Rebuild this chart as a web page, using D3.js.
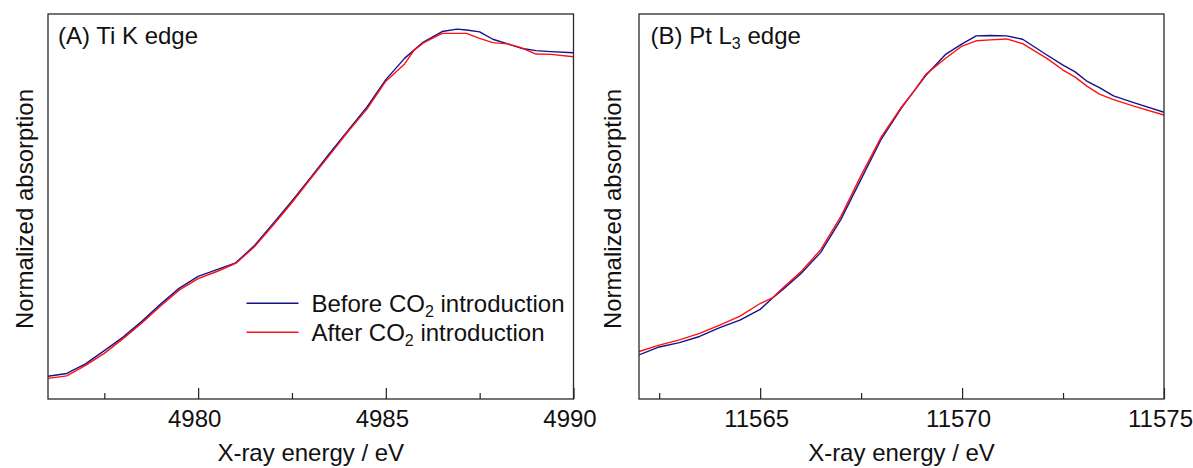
<!DOCTYPE html>
<html>
<head>
<meta charset="utf-8">
<script src="https://cdn.jsdelivr.net/npm/d3@7"></script>
<style>
  html, body { margin: 0; padding: 0; background: #fff; }
  svg { display: block; }
  text { font-family: "Liberation Sans", Arial, sans-serif; fill: #111; }
</style>
</head>
<body>
<svg id="chart" width="1193" height="468"></svg>
<script>
// ---- Ti K edge XANES (panel A) ----
const tiEnergy = [4976.0, 4976.5, 4977.0, 4977.5, 4978.0, 4978.5, 4979.0, 4979.5, 4980.0, 4980.5,
  4981.0, 4981.5, 4982.0, 4982.5, 4983.0, 4983.5, 4984.0, 4984.5, 4985.0, 4985.5,
  4985.75, 4986.0, 4986.5, 4986.9, 4987.15, 4987.5, 4987.85, 4988.25, 4988.6, 4989.0,
  4989.4, 4990.0];
const tiBefore = [0.074, 0.083, 0.114, 0.157, 0.201, 0.252, 0.308, 0.360, 0.398, 0.420,
  0.442, 0.498, 0.570, 0.643, 0.719, 0.797, 0.873, 0.948, 1.037, 1.106,
  1.133, 1.159, 1.193, 1.201, 1.198, 1.192, 1.168, 1.153, 1.139, 1.131,
  1.128, 1.124];
const tiAfter = [0.067, 0.075, 0.109, 0.148, 0.196, 0.247, 0.302, 0.354, 0.391, 0.414,
  0.440, 0.494, 0.565, 0.638, 0.716, 0.792, 0.869, 0.942, 1.032, 1.088,
  1.132, 1.156, 1.187, 1.187, 1.187, 1.171, 1.157, 1.153, 1.141, 1.120,
  1.119, 1.111];

// ---- Pt L3 edge XANES (panel B) ----
const ptEnergy = [11562.0, 11562.5, 11563.0, 11563.5, 11564.0, 11564.5, 11565.0, 11565.3, 11565.6, 11566.0,
  11566.5, 11567.0, 11567.5, 11568.0, 11568.5, 11568.8, 11569.1, 11569.6, 11570.0, 11570.35,
  11570.7, 11571.1, 11571.5, 11572.1, 11572.5, 11572.8, 11573.1, 11573.4, 11573.75, 11574.25,
  11575.0];
const ptBefore = [0.143, 0.169, 0.183, 0.203, 0.232, 0.256, 0.291, 0.327, 0.360, 0.406,
  0.476, 0.583, 0.714, 0.844, 0.945, 0.998, 1.050, 1.120, 1.153, 1.179,
  1.180, 1.179, 1.168, 1.117, 1.084, 1.062, 1.031, 1.011, 0.984, 0.962,
  0.931];
const ptAfter = [0.154, 0.175, 0.192, 0.213, 0.240, 0.269, 0.310, 0.328, 0.365, 0.412,
  0.485, 0.593, 0.726, 0.851, 0.948, 0.998, 1.054, 1.107, 1.146, 1.163,
  1.166, 1.169, 1.154, 1.106, 1.068, 1.045, 1.015, 0.990, 0.972, 0.951,
  0.922];

// ---- axis ticks ----
const tiMajorTicks = [4980, 4985, 4990];
const tiMinorTicks = [4977.5, 4982.5, 4987.5];
const ptMajorTicks = [11565, 11570, 11575];
const ptMinorTicks = [11562.5, 11567.5, 11572.5];

const seriesNames = ["Before CO", "After CO"];
const seriesColors = ["#12128e", "#ff1010"];

const svg = d3.select("#chart");
svg.append("rect").attr("width", 1193).attr("height", 468).attr("fill", "#fff");

const plotTop = 14, plotBottom = 399;
const yDomain = [0, 1.25];

function panel(opts) {
  const x = d3.scaleLinear().domain(opts.xDomain).range([opts.left, opts.right]);
  const y = d3.scaleLinear().domain(yDomain).range([plotBottom, plotTop]);
  const g = svg.append("g");

  // curves
  const line = d3.line().x(d => x(d[0])).y(d => y(d[1]));
  const clipId = "clip-" + opts.id;
  g.append("clipPath").attr("id", clipId).append("rect")
    .attr("x", opts.left).attr("y", plotTop)
    .attr("width", opts.right - opts.left).attr("height", plotBottom - plotTop);
  opts.series.forEach((vals, i) => {
    g.append("path")
      .datum(opts.energy.map((e, k) => [e, vals[k]]))
      .attr("clip-path", `url(#${clipId})`)
      .attr("fill", "none")
      .attr("stroke", seriesColors[i])
      .attr("stroke-width", 1.4)
      .attr("stroke-linejoin", "round")
      .attr("d", line);
  });

  // bottom axis: major ticks with labels, minor ticks without
  const axMajor = d3.axisBottom(x).tickValues(opts.major).tickSize(-11).tickPadding(11).tickFormat(d3.format("d"));
  const axMinor = d3.axisBottom(x).tickValues(opts.minor).tickSize(-6).tickFormat("");
  const ga = g.append("g").attr("transform", `translate(0,${plotBottom})`).call(axMajor);
  const gm = g.append("g").attr("transform", `translate(0,${plotBottom})`).call(axMinor);
  [ga, gm].forEach(a => {
    a.select(".domain").remove();
    a.selectAll("line").attr("stroke", "#222").attr("stroke-width", 1.2);
  });
  ga.selectAll("text")
    .attr("font-size", 24)
    .attr("font-family", "Liberation Sans, Arial, sans-serif")
    .attr("fill", "#111")
    .attr("dx", -4);

  // frame
  g.append("rect")
    .attr("x", opts.left).attr("y", plotTop)
    .attr("width", opts.right - opts.left).attr("height", plotBottom - plotTop)
    .attr("fill", "none").attr("stroke", "#2a2a2a").attr("stroke-width", 1.3);

  // axis titles
  g.append("text")
    .attr("x", (opts.left + opts.right) / 2).attr("y", 461)
    .attr("text-anchor", "middle").attr("font-size", 24)
    .text("X-ray energy / eV");
  g.append("text")
    .attr("transform", `translate(${opts.yLabelX},209) rotate(-90)`)
    .attr("text-anchor", "middle").attr("font-size", 24)
    .text("Normalized absorption");

  // panel title
  const t = g.append("text")
    .attr("x", opts.left + opts.titleDx).attr("y", 43.5).attr("font-size", 24);
  t.append("tspan").text(opts.title[0]);
  if (opts.title[1]) {
    t.append("tspan").attr("font-size", 16).attr("dy", 5).text(opts.title[1]);
    t.append("tspan").attr("dy", -5).text(opts.title[2]);
  }
  return { x, y, g };
}

panel({
  id: "a", left: 48, right: 573.5, xDomain: [4976, 4990],
  energy: tiEnergy, series: [tiBefore, tiAfter],
  major: tiMajorTicks, minor: tiMinorTicks,
  yLabelX: 32.5, title: ["(A) Ti K edge"], titleDx: 10
});

panel({
  id: "b", left: 639, right: 1164, xDomain: [11562, 11575],
  energy: ptEnergy, series: [ptBefore, ptAfter],
  major: ptMajorTicks, minor: ptMinorTicks,
  yLabelX: 621, title: ["(B) Pt L", "3", " edge"], titleDx: 11.5
});

// legend inside panel A
const legend = svg.append("g");
seriesNames.forEach((name, i) => {
  const ly = 303.3 + i * 29;
  legend.append("line")
    .attr("x1", 246.5).attr("x2", 298.5).attr("y1", ly).attr("y2", ly)
    .attr("stroke", seriesColors[i]).attr("stroke-width", 1.6);
  const t = legend.append("text").attr("x", 311.5).attr("y", ly + 9).attr("font-size", 24);
  t.append("tspan").text(name);
  t.append("tspan").attr("font-size", 16).attr("dy", 5).text("2");
  t.append("tspan").attr("dy", -5).text(" introduction");
});
</script>
</body>
</html>
